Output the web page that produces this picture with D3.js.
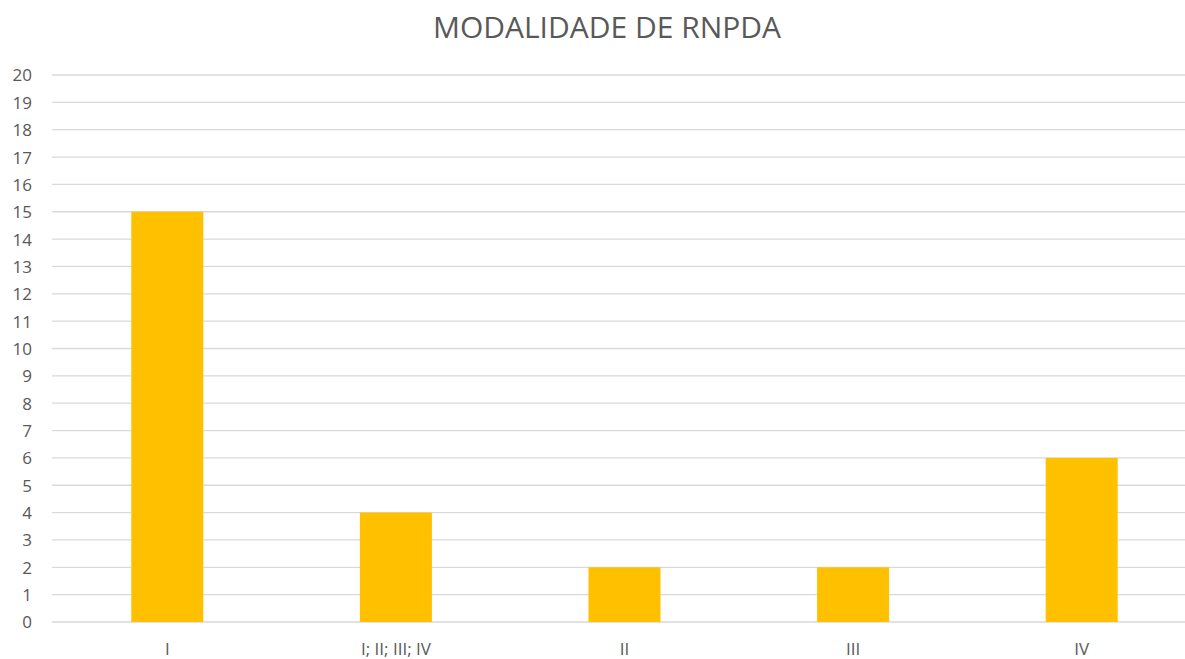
<!DOCTYPE html>
<html><head><meta charset="utf-8">
<script src="https://cdn.jsdelivr.net/npm/d3@7"></script>
<style>body{margin:0;background:#fff;overflow:hidden}</style>
</head><body><svg id="c" width="1185" height="659"></svg>
<script>
const categories = ["I", "I; II; III; IV", "II", "III", "IV"];
const values = [15, 4, 2, 2, 6];
const yTicks = d3.range(0, 21);
const title = "MODALIDADE DE RNPDA";

const svg = d3.select("#c");
const font = "'Open Sans', sans-serif";
const x = d3.scaleBand().domain(categories).range([53, 1196]).paddingInner(0.685).paddingOuter(0.3425);
const y = d3.scaleLinear().domain([0, 20]).range([622, 75]);

svg.append("rect").attr("width",1185).attr("height",659).attr("fill","#fff");

svg.append("g").selectAll("line").data(yTicks).join("line")
  .attr("x1",52).attr("x2",1195).attr("y1",d=>y(d)).attr("y2",d=>y(d))
  .attr("stroke","#d9d9d9").attr("stroke-width",1.3);

svg.append("g").selectAll("rect").data(values).join("rect")
  .attr("x",(d,i)=>x(categories[i])).attr("width",x.bandwidth())
  .attr("y",d=>y(d)).attr("height",d=>y(0)-y(d)).attr("fill","#ffc000");

const yAxis = svg.append("g").attr("transform","translate(32,0)")
  .call(d3.axisLeft(y).tickValues(yTicks).tickSize(0).tickPadding(0).tickFormat(d3.format("d")));
yAxis.select(".domain").remove();
yAxis.selectAll("text").attr("fill","#595959").style("font-family",font).style("font-size","17px").attr("dy","0.35em");

const xAxis = svg.append("g").attr("transform","translate(0,642)")
  .call(d3.axisBottom(x).tickSize(0).tickPadding(0));
xAxis.select(".domain").remove();
xAxis.selectAll("text").attr("fill","#595959").style("font-family",font).style("font-size","17px").attr("dy","0.75em");

svg.append("text").attr("x",607).attr("y",38).attr("text-anchor","middle")
  .attr("fill","#595959").style("font-family",font).style("font-size","30px").text(title);
</script></body></html>
